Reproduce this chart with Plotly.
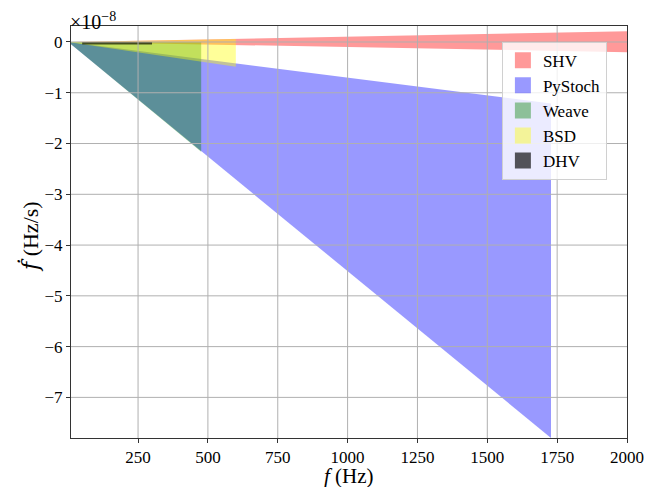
import plotly.graph_objects as go

# ---- data (Hz, Hz/s) ----
names = ["SHV", "PyStoch", "Weave", "BSD", "DHV"]
colors = ["rgba(255,0,0,0.4)", "rgba(0,0,255,0.4)", "rgba(0,128,0,0.4)",
          "rgba(255,255,0,0.4)", "rgba(0,0,0,0.65)"]

shv_f = [10, 2000]
shv_hi = [1e-11, 2.1e-9]
shv_lo = [-1e-11, -2.0e-9]

pystoch_f = [10, 1728]
pystoch_hi = [-7e-11, -1.21e-8]
pystoch_lo = [-4.5e-10, -7.8e-8]

weave_f = [10, 476]
weave_hi = [0.0, 0.0]
weave_lo = [-4.5e-10, -2.16e-8]

bsd_f = [10, 600]
bsd_hi = [1e-11, 6e-10]
bsd_lo = [-8e-11, -4.86e-9]

dhv_f = [50, 300]
dhv_hi = [0.0, 0.0]
dhv_lo = [-5e-10, -5e-10]

x_ticks = [250, 500, 750, 1000, 1250, 1500, 1750, 2000]
y_ticks = [0, -1, -2, -3, -4, -5, -6, -7]   # in units of 1e-8
scale = 1e-8

bands = [
    (shv_f, shv_hi, shv_lo),
    (pystoch_f, pystoch_hi, pystoch_lo),
    (weave_f, weave_hi, weave_lo),
    (bsd_f, bsd_hi, bsd_lo),
    (dhv_f, dhv_hi, dhv_lo),
]

fig = go.Figure()
for (f, hi, lo), name, col in zip(bands, names, colors):
    xs = list(f) + list(f[::-1])
    ys = [v / scale for v in hi] + [v / scale for v in lo[::-1]]
    fig.add_trace(go.Scatter(x=xs, y=ys, fill="toself", fillcolor=col,
                             mode="none", line=dict(width=0),
                             showlegend=False, hoverinfo="skip"))

# legend proxies (square patches)
for name, col in zip(names, colors):
    fig.add_trace(go.Scatter(x=[None], y=[None], mode="markers", name=name,
                             marker=dict(symbol="square", size=17, color=col,
                                         line=dict(width=0))))

# grid drawn above the fills (as in the reference)
grid = dict(color="#b0b0b0", width=1)
for xv in x_ticks[:-1]:
    fig.add_shape(type="line", xref="x", yref="paper", x0=xv, x1=xv, y0=0, y1=1,
                  line=grid, layer="above")
for yv in y_ticks:
    fig.add_shape(type="line", xref="paper", yref="y", x0=0, x1=1, y0=yv, y1=yv,
                  line=grid, layer="above")

font_family = "Liberation Serif"
fig.add_annotation(xref="paper", yref="paper", x=0, y=1, xanchor="left",
                   yanchor="bottom", showarrow=False,
                   text="×10<sup>−8</sup>", font=dict(size=20, color="black"),
                   xshift=-3, yshift=-9)
# axis titles
fig.add_annotation(xref="paper", yref="paper", x=0.5, y=0, xanchor="center",
                   yanchor="middle", showarrow=False, yshift=-38,
                   text="<i>f</i> (Hz)", font=dict(size=21, color="black"))
fig.add_annotation(xref="paper", yref="paper", x=0, y=0.5, xanchor="center",
                   yanchor="middle", showarrow=False, xshift=-41, yshift=-5,
                   textangle=-90,
                   text="<span style='font-family:DejaVu Serif'><i>ḟ</i></span> (Hz/s)",
                   font=dict(size=22, color="black"))

# the page body adds an 8px offset, so the figure is 8px smaller
fig.update_layout(
    width=650, height=479,
    margin=dict(l=63, r=31, t=18, b=49),
    paper_bgcolor="white", plot_bgcolor="white",
    font=dict(family=font_family, size=17, color="black"),
    xaxis=dict(range=[10, 2000], tickvals=x_ticks, showgrid=False,
               zeroline=False, showline=True, mirror=True, linecolor="#333",
               linewidth=1, ticks="outside", ticklen=4, tickcolor="#333",
               automargin=False),
    yaxis=dict(range=[-7.8, 0.315], tickvals=y_ticks, showgrid=False,
               zeroline=False, showline=True, mirror=True, linecolor="#333",
               linewidth=1, ticks="outside", ticklen=4, tickcolor="#333",
               automargin=False),
    legend=dict(x=0.775, y=0.962, xanchor="left", yanchor="top",
                bgcolor="rgba(255,255,255,0.8)", bordercolor="#d0d0d0",
                borderwidth=1, font=dict(size=17), itemwidth=30),
)

fig.write_html("out.html")
